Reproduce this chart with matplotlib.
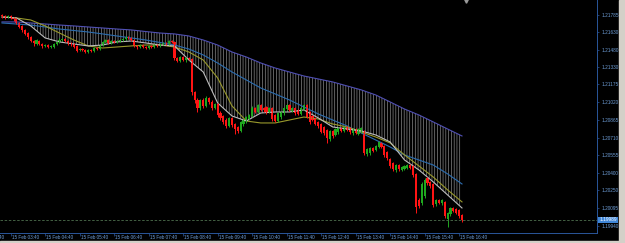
import numpy as np
import matplotlib
matplotlib.use("Agg")
import matplotlib.pyplot as plt
from matplotlib.patches import Rectangle
from matplotlib.transforms import blended_transform_factory

plt.rcParams['font.family'] = ['Liberation Sans', 'DejaVu Sans']
plt.rcParams['hatch.linewidth'] = 0.45
plt.rcParams['hatch.color'] = '#959595'

# 5 minute candles, 15 Feb 03:25 -> 16:45
opens = [
    1.21783, 1.21774, 1.21765, 1.21774, 1.21757, 1.21748, 1.21713, 1.21687, 1.21652, 1.21625,
    1.21590, 1.21555, 1.21529, 1.21555, 1.21529, 1.21512, 1.21520, 1.21503, 1.21503, 1.21529,
    1.21547, 1.21564, 1.21573, 1.21555, 1.21538, 1.21529, 1.21512, 1.21477, 1.21485, 1.21477,
    1.21459, 1.21477, 1.21468, 1.21494, 1.21485, 1.21520, 1.21547, 1.21564, 1.21538, 1.21555,
    1.21547, 1.21555, 1.21564, 1.21573, 1.21590, 1.21582, 1.21564, 1.21512, 1.21503, 1.21520,
    1.21503, 1.21494, 1.21512, 1.21503, 1.21520, 1.21512, 1.21529, 1.21538, 1.21529, 1.21555,
    1.21547, 1.21407, 1.21380, 1.21415, 1.21389, 1.21407, 1.21398, 1.21109, 1.21039, 1.20969,
    1.21039, 1.20987, 1.21057, 1.21022, 1.20969, 1.21004, 1.20925, 1.20899, 1.20864, 1.20812,
    1.20882, 1.20829, 1.20803, 1.20768, 1.20829, 1.20855, 1.20873, 1.20899, 1.20969, 1.20934,
    1.20995, 1.20969, 1.20978, 1.20934, 1.20969, 1.20908, 1.20855, 1.20890, 1.20925, 1.20960,
    1.20995, 1.20943, 1.20969, 1.20952, 1.20917, 1.20960, 1.20995, 1.20934, 1.20899, 1.20882,
    1.20847, 1.20829, 1.20803, 1.20777, 1.20698, 1.20768, 1.20733, 1.20759, 1.20794, 1.20768,
    1.20803, 1.20794, 1.20750, 1.20785, 1.20742, 1.20768, 1.20768, 1.20567, 1.20575, 1.20619,
    1.20602, 1.20628, 1.20663, 1.20637, 1.20584, 1.20523, 1.20488, 1.20427, 1.20470, 1.20427,
    1.20435, 1.20444, 1.20470, 1.20462, 1.20392, 1.20164, 1.20138, 1.20199, 1.20357, 1.20322,
    1.20304, 1.20129, 1.20164, 1.20138, 1.20147, 1.19998, 1.20042, 1.20094, 1.20085, 1.20077,
    1.20033]
highs = [
    1.21792, 1.21783, 1.21783, 1.21783, 1.21765, 1.21757, 1.21722, 1.21695, 1.21660, 1.21634,
    1.21599, 1.21564, 1.21573, 1.21564, 1.21538, 1.21529, 1.21529, 1.21520, 1.21538, 1.21555,
    1.21582, 1.21582, 1.21582, 1.21564, 1.21547, 1.21538, 1.21520, 1.21494, 1.21494, 1.21485,
    1.21485, 1.21485, 1.21503, 1.21503, 1.21529, 1.21555, 1.21573, 1.21573, 1.21564, 1.21564,
    1.21564, 1.21573, 1.21582, 1.21599, 1.21599, 1.21590, 1.21573, 1.21520, 1.21529, 1.21529,
    1.21512, 1.21520, 1.21520, 1.21529, 1.21529, 1.21538, 1.21547, 1.21547, 1.21564, 1.21564,
    1.21555, 1.21415, 1.21424, 1.21424, 1.21415, 1.21415, 1.21407, 1.21118, 1.21057, 1.21048,
    1.21057, 1.21074, 1.21065, 1.21039, 1.21013, 1.21013, 1.20943, 1.20908, 1.20882, 1.20890,
    1.20890, 1.20838, 1.20812, 1.20855, 1.20873, 1.20899, 1.20917, 1.20987, 1.20978, 1.21004,
    1.21004, 1.20978, 1.20987, 1.20978, 1.20978, 1.20917, 1.20934, 1.20943, 1.20978, 1.21004,
    1.21004, 1.20978, 1.20978, 1.20960, 1.20978, 1.21004, 1.21004, 1.20943, 1.20908, 1.20890,
    1.20855, 1.20838, 1.20812, 1.20785, 1.20777, 1.20777, 1.20794, 1.20803, 1.20803, 1.20812,
    1.20812, 1.20803, 1.20794, 1.20794, 1.20794, 1.20803, 1.20777, 1.20619, 1.20628, 1.20628,
    1.20645, 1.20680, 1.20672, 1.20645, 1.20593, 1.20532, 1.20497, 1.20479, 1.20479, 1.20462,
    1.20470, 1.20479, 1.20479, 1.20470, 1.20400, 1.20182, 1.20322, 1.20357, 1.20365, 1.20330,
    1.20313, 1.20173, 1.20173, 1.20173, 1.20155, 1.20059, 1.20103, 1.20103, 1.20094, 1.20085,
    1.20042]
lows = [
    1.21757, 1.21748, 1.21757, 1.21748, 1.21730, 1.21704, 1.21669, 1.21634, 1.21608, 1.21573,
    1.21547, 1.21512, 1.21520, 1.21520, 1.21494, 1.21503, 1.21494, 1.21494, 1.21494, 1.21520,
    1.21538, 1.21555, 1.21547, 1.21520, 1.21512, 1.21494, 1.21459, 1.21468, 1.21468, 1.21450,
    1.21450, 1.21459, 1.21459, 1.21477, 1.21477, 1.21512, 1.21538, 1.21529, 1.21529, 1.21538,
    1.21538, 1.21547, 1.21555, 1.21564, 1.21573, 1.21555, 1.21503, 1.21485, 1.21494, 1.21494,
    1.21485, 1.21485, 1.21494, 1.21494, 1.21503, 1.21503, 1.21520, 1.21520, 1.21520, 1.21538,
    1.21389, 1.21372, 1.21372, 1.21380, 1.21372, 1.21389, 1.21083, 1.21013, 1.20934, 1.20952,
    1.20969, 1.20978, 1.21004, 1.20952, 1.20960, 1.20890, 1.20864, 1.20829, 1.20794, 1.20803,
    1.20803, 1.20742, 1.20750, 1.20759, 1.20812, 1.20838, 1.20864, 1.20890, 1.20925, 1.20925,
    1.20943, 1.20934, 1.20917, 1.20925, 1.20855, 1.20847, 1.20847, 1.20873, 1.20908, 1.20952,
    1.20943, 1.20934, 1.20908, 1.20908, 1.20908, 1.20952, 1.20882, 1.20829, 1.20855, 1.20820,
    1.20794, 1.20750, 1.20733, 1.20663, 1.20680, 1.20707, 1.20724, 1.20742, 1.20759, 1.20759,
    1.20768, 1.20742, 1.20733, 1.20742, 1.20733, 1.20750, 1.20558, 1.20549, 1.20558, 1.20584,
    1.20593, 1.20619, 1.20619, 1.20540, 1.20514, 1.20444, 1.20418, 1.20409, 1.20418, 1.20418,
    1.20427, 1.20435, 1.20435, 1.20365, 1.20050, 1.20094, 1.20120, 1.20182, 1.20295, 1.20269,
    1.20103, 1.20112, 1.20129, 1.20120, 1.20007, 1.19928, 1.20024, 1.20059, 1.20042, 1.20007,
    1.19972]
closes = [
    1.21774, 1.21765, 1.21774, 1.21757, 1.21748, 1.21713, 1.21678, 1.21652, 1.21617, 1.21590,
    1.21555, 1.21538, 1.21564, 1.21529, 1.21512, 1.21520, 1.21503, 1.21512, 1.21529, 1.21547,
    1.21564, 1.21573, 1.21555, 1.21538, 1.21529, 1.21503, 1.21468, 1.21485, 1.21477, 1.21459,
    1.21477, 1.21468, 1.21494, 1.21485, 1.21520, 1.21547, 1.21564, 1.21538, 1.21555, 1.21547,
    1.21555, 1.21564, 1.21573, 1.21590, 1.21582, 1.21564, 1.21512, 1.21503, 1.21520, 1.21503,
    1.21494, 1.21512, 1.21503, 1.21520, 1.21512, 1.21529, 1.21538, 1.21529, 1.21555, 1.21547,
    1.21407, 1.21380, 1.21415, 1.21389, 1.21407, 1.21398, 1.21109, 1.21039, 1.20969, 1.21039,
    1.20987, 1.21057, 1.21022, 1.20969, 1.21004, 1.20908, 1.20882, 1.20847, 1.20812, 1.20882,
    1.20820, 1.20785, 1.20768, 1.20847, 1.20864, 1.20890, 1.20908, 1.20969, 1.20934, 1.20995,
    1.20952, 1.20952, 1.20934, 1.20969, 1.20873, 1.20855, 1.20925, 1.20934, 1.20969, 1.20995,
    1.20952, 1.20969, 1.20925, 1.20917, 1.20969, 1.20995, 1.20890, 1.20847, 1.20864, 1.20829,
    1.20812, 1.20759, 1.20750, 1.20707, 1.20768, 1.20724, 1.20785, 1.20794, 1.20768, 1.20803,
    1.20777, 1.20759, 1.20785, 1.20750, 1.20785, 1.20794, 1.20575, 1.20610, 1.20619, 1.20593,
    1.20637, 1.20672, 1.20628, 1.20558, 1.20532, 1.20462, 1.20435, 1.20470, 1.20435, 1.20453,
    1.20462, 1.20470, 1.20444, 1.20383, 1.20103, 1.20112, 1.20304, 1.20339, 1.20313, 1.20287,
    1.20120, 1.20164, 1.20138, 1.20164, 1.20024, 1.20050, 1.20094, 1.20068, 1.20050, 1.20024,
    1.19989]

# moving averages, read every 5th bar
ma_idx = list(range(0, 161, 5))
ma_purple = [1.21722, 1.21722, 1.21713, 1.21704, 1.21695, 1.21687, 1.21678, 1.21669, 1.21660,
             1.21652, 1.21638, 1.21625, 1.21617, 1.21599, 1.21564, 1.21520, 1.21459, 1.21415,
             1.21363, 1.21319, 1.21284, 1.21249, 1.21223, 1.21197, 1.21162, 1.21127, 1.21083,
             1.21022, 1.20960, 1.20908, 1.20847, 1.20785, 1.20724]
ma_blue = [1.21713, 1.21704, 1.21695, 1.21678, 1.21660, 1.21647, 1.21634, 1.21617, 1.21599,
           1.21582, 1.21564, 1.21542, 1.21520, 1.21485, 1.21433, 1.21363, 1.21284, 1.21214,
           1.21144, 1.21092, 1.21039, 1.20978, 1.20917, 1.20864, 1.20812, 1.20750, 1.20689,
           1.20628, 1.20558, 1.20514, 1.20470, 1.20392, 1.20304]
ma_yellow = [1.21765, 1.21757, 1.21739, 1.21687, 1.21625, 1.21564, 1.21512, 1.21494, 1.21503,
             1.21512, 1.21520, 1.21520, 1.21503, 1.21459, 1.21389, 1.21232, 1.20987, 1.20855,
             1.20838, 1.20838, 1.20864, 1.20890, 1.20873, 1.20829, 1.20803, 1.20759, 1.20715,
             1.20663, 1.20558, 1.20462, 1.20365, 1.20252, 1.20147]
ma_gray = [1.21765, 1.21757, 1.21687, 1.21582, 1.21547, 1.21529, 1.21512, 1.21520, 1.21547,
           1.21555, 1.21538, 1.21520, 1.21512, 1.21389, 1.21284, 1.21013, 1.20899, 1.20855,
           1.20925, 1.20934, 1.20934, 1.20952, 1.20882, 1.20803, 1.20785, 1.20768, 1.20733,
           1.20672, 1.20514, 1.20427, 1.20322, 1.20208, 1.20094]

ytick_vals = [1.21785, 1.21630, 1.21480, 1.21330, 1.21175, 1.21020, 1.20865,
              1.20710, 1.20555, 1.20400, 1.20250, 1.20095, 1.19940]
time_idx = [-9, 3, 15, 27, 39, 51, 63, 75, 87, 99, 111, 123, 135, 147, 159]
time_labels = ['15 Feb 02:40', '15 Feb 03:40', '15 Feb 04:40', '15 Feb 05:40', '15 Feb 06:40',
               '15 Feb 07:40', '15 Feb 08:40', '15 Feb 09:40', '15 Feb 10:40', '15 Feb 11:40',
               '15 Feb 12:40', '15 Feb 13:40', '15 Feb 14:40', '15 Feb 15:40', '15 Feb 16:40']

o = np.array(opens)
h = np.array(highs)
l = np.array(lows)
c = np.array(closes)
idx = np.arange(len(c))

axis_col = '#2a569a'
label_col = '#6f9fd8'

fig = plt.figure(figsize=(6.25, 2.43), dpi=100, facecolor='black')
ax = fig.add_axes([0, 10 / 243, 597 / 625, 233 / 243], facecolor='black')

# hatched band between slow MA and fast MA
pu = np.array(ma_purple)
gr = np.array(ma_gray)
ax.fill_between(ma_idx, gr, pu, where=gr < pu, interpolate=True,
                facecolor='none', edgecolor='#959595', hatch='||||||', linewidth=0)

ax.plot(ma_idx, ma_purple, color='#5050b4', lw=0.8)
ax.plot(ma_idx, ma_blue, color='#2c6db0', lw=0.8)
ax.plot(ma_idx, ma_yellow, color='#99992c', lw=0.8)
ax.plot(ma_idx, ma_gray, color='#bcbcbc', lw=0.8)

# candles
up = c >= o
cols = np.where(up, '#1fa81f', '#ff1414')
ax.vlines(idx, l, h, colors=cols, lw=0.7)
ax.bar(idx, np.abs(c - o), bottom=np.minimum(o, c), width=0.72, color=cols, linewidth=0)

# bid line + price box
ax.axhline(closes[-1], color='#4d6e4d', lw=0.6, ls=(0, (3, 2)))
tr_y = blended_transform_factory(ax.transAxes, ax.transData)
ax.text(1.004, closes[-1], f'{closes[-1]:.5f}', transform=tr_y, ha='left', va='center',
        fontsize=3.4, color='white', clip_on=False,
        bbox=dict(boxstyle='square,pad=0.2', fc='#3f86d8', ec='none'))

# chart shift marker
ax.plot([161.4], [1.21905], marker='v', ms=2.5, color='#9a9a9a', clip_on=False)

ax.set_xlim(-0.696, 206.96)
ax.set_ylim(1.19875, 1.21914)

for s in ['top', 'left']:
    ax.spines[s].set_visible(False)
for s in ['right', 'bottom']:
    ax.spines[s].set_color(axis_col)
    ax.spines[s].set_linewidth(0.7)

ax.yaxis.tick_right()
ax.set_yticks(ytick_vals)
ax.set_yticklabels([f'{v:.5f}' for v in ytick_vals])
ax.tick_params(axis='y', colors=axis_col, labelcolor=label_col, labelsize=3.4,
               length=1.5, width=0.5, pad=1.5)

ax.set_xticks(time_idx[1:])
ax.set_xticklabels([])
ax.tick_params(axis='x', colors=axis_col, length=2, width=0.5)
tr_x = blended_transform_factory(ax.transData, ax.transAxes)
for t, lab in zip(time_idx, time_labels):
    ax.text(t + 0.35, -0.021, lab, transform=tr_x, ha='left', va='center',
            fontsize=3.3, color=label_col, clip_on=False)

# window frame on the right and bottom
fig.add_artist(Rectangle((619 / 625, 0), 6 / 625, 1, transform=fig.transFigure,
                         color='#d4d0c8', zorder=10))
fig.add_artist(Rectangle((0, 0), 1, 2 / 243, transform=fig.transFigure,
                         color='#d4d0c8', zorder=10))

fig.savefig('out.png', dpi=100, facecolor='black')
